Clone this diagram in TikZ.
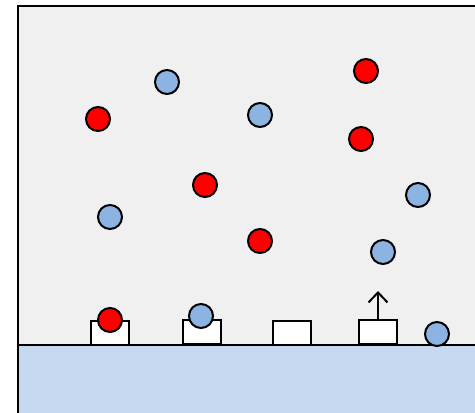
\documentclass[tikz,border=0pt]{standalone}
\usepackage{tikz}
\usetikzlibrary{arrows.meta,positioning}
\definecolor{chambergray}{HTML}{F0F0F0}
\definecolor{floorblue}{HTML}{C6D9F1}
\definecolor{ionblue}{HTML}{8DB3E2}
\definecolor{ionred}{HTML}{FF0000}

\begin{document}
\begin{tikzpicture}[
  x=1pt, y=-1pt,
  ion/.style={circle,draw=black,line width=2pt,minimum size=24pt,inner sep=0pt},
  redion/.style={ion,fill=ionred},
  blueion/.style={ion,fill=ionblue},
  site/.style={draw=black,fill=white,line width=2pt,minimum width=38pt,minimum height=24pt,inner sep=0pt},
  wall/.style={draw=black,line width=2.4pt},
  release/.style={-{Straight Barb[length=10pt,width=19pt]},draw=black,line width=2pt}
]
  \useasboundingbox (0,0) rectangle (475,413);
  % chamber and floor
  \fill[chambergray] (18,6) rectangle (476,345);
  \fill[floorblue] (18,345) rectangle (476,414);
  \draw[wall] (476,6) -- (18,6) -- (18,414);
  \draw[wall] (18,345) -- (476,345);

  % binding sites on the floor
  \node[site] (siteA) at (110,333) {};
  \node[site] (siteB) at (201.5,331.5) {};
  \node[site] (siteC) at (291.5,333) {};
  \node[site] (siteD) at (378,332) {};
  \coordinate (tipD) at (378,291);
  \draw[release] (siteD.north) -- (tipD);

  % free ions
  \node[redion] (r1) at (98,119) {};
  \node[redion] (r2) at (366,71) {};
  \node[redion] (r3) at (361,139) {};
  \node[redion] (r4) at (205,185) {};
  \node[redion] (r5) at (260,241) {};
  \node[blueion] (b1) at (167,82) {};
  \node[blueion] (b2) at (260,115) {};
  \node[blueion] (b3) at (418,195) {};
  \node[blueion] (b4) at (110,217) {};
  \node[blueion] (b5) at (383,252) {};

  % bound and nearby ions
  \node[redion] (r6) at (110,320) {};
  \node[blueion] (b6) at (201,316) {};
  \node[blueion] (b7) at (437,334) {};
\end{tikzpicture}
\end{document}
